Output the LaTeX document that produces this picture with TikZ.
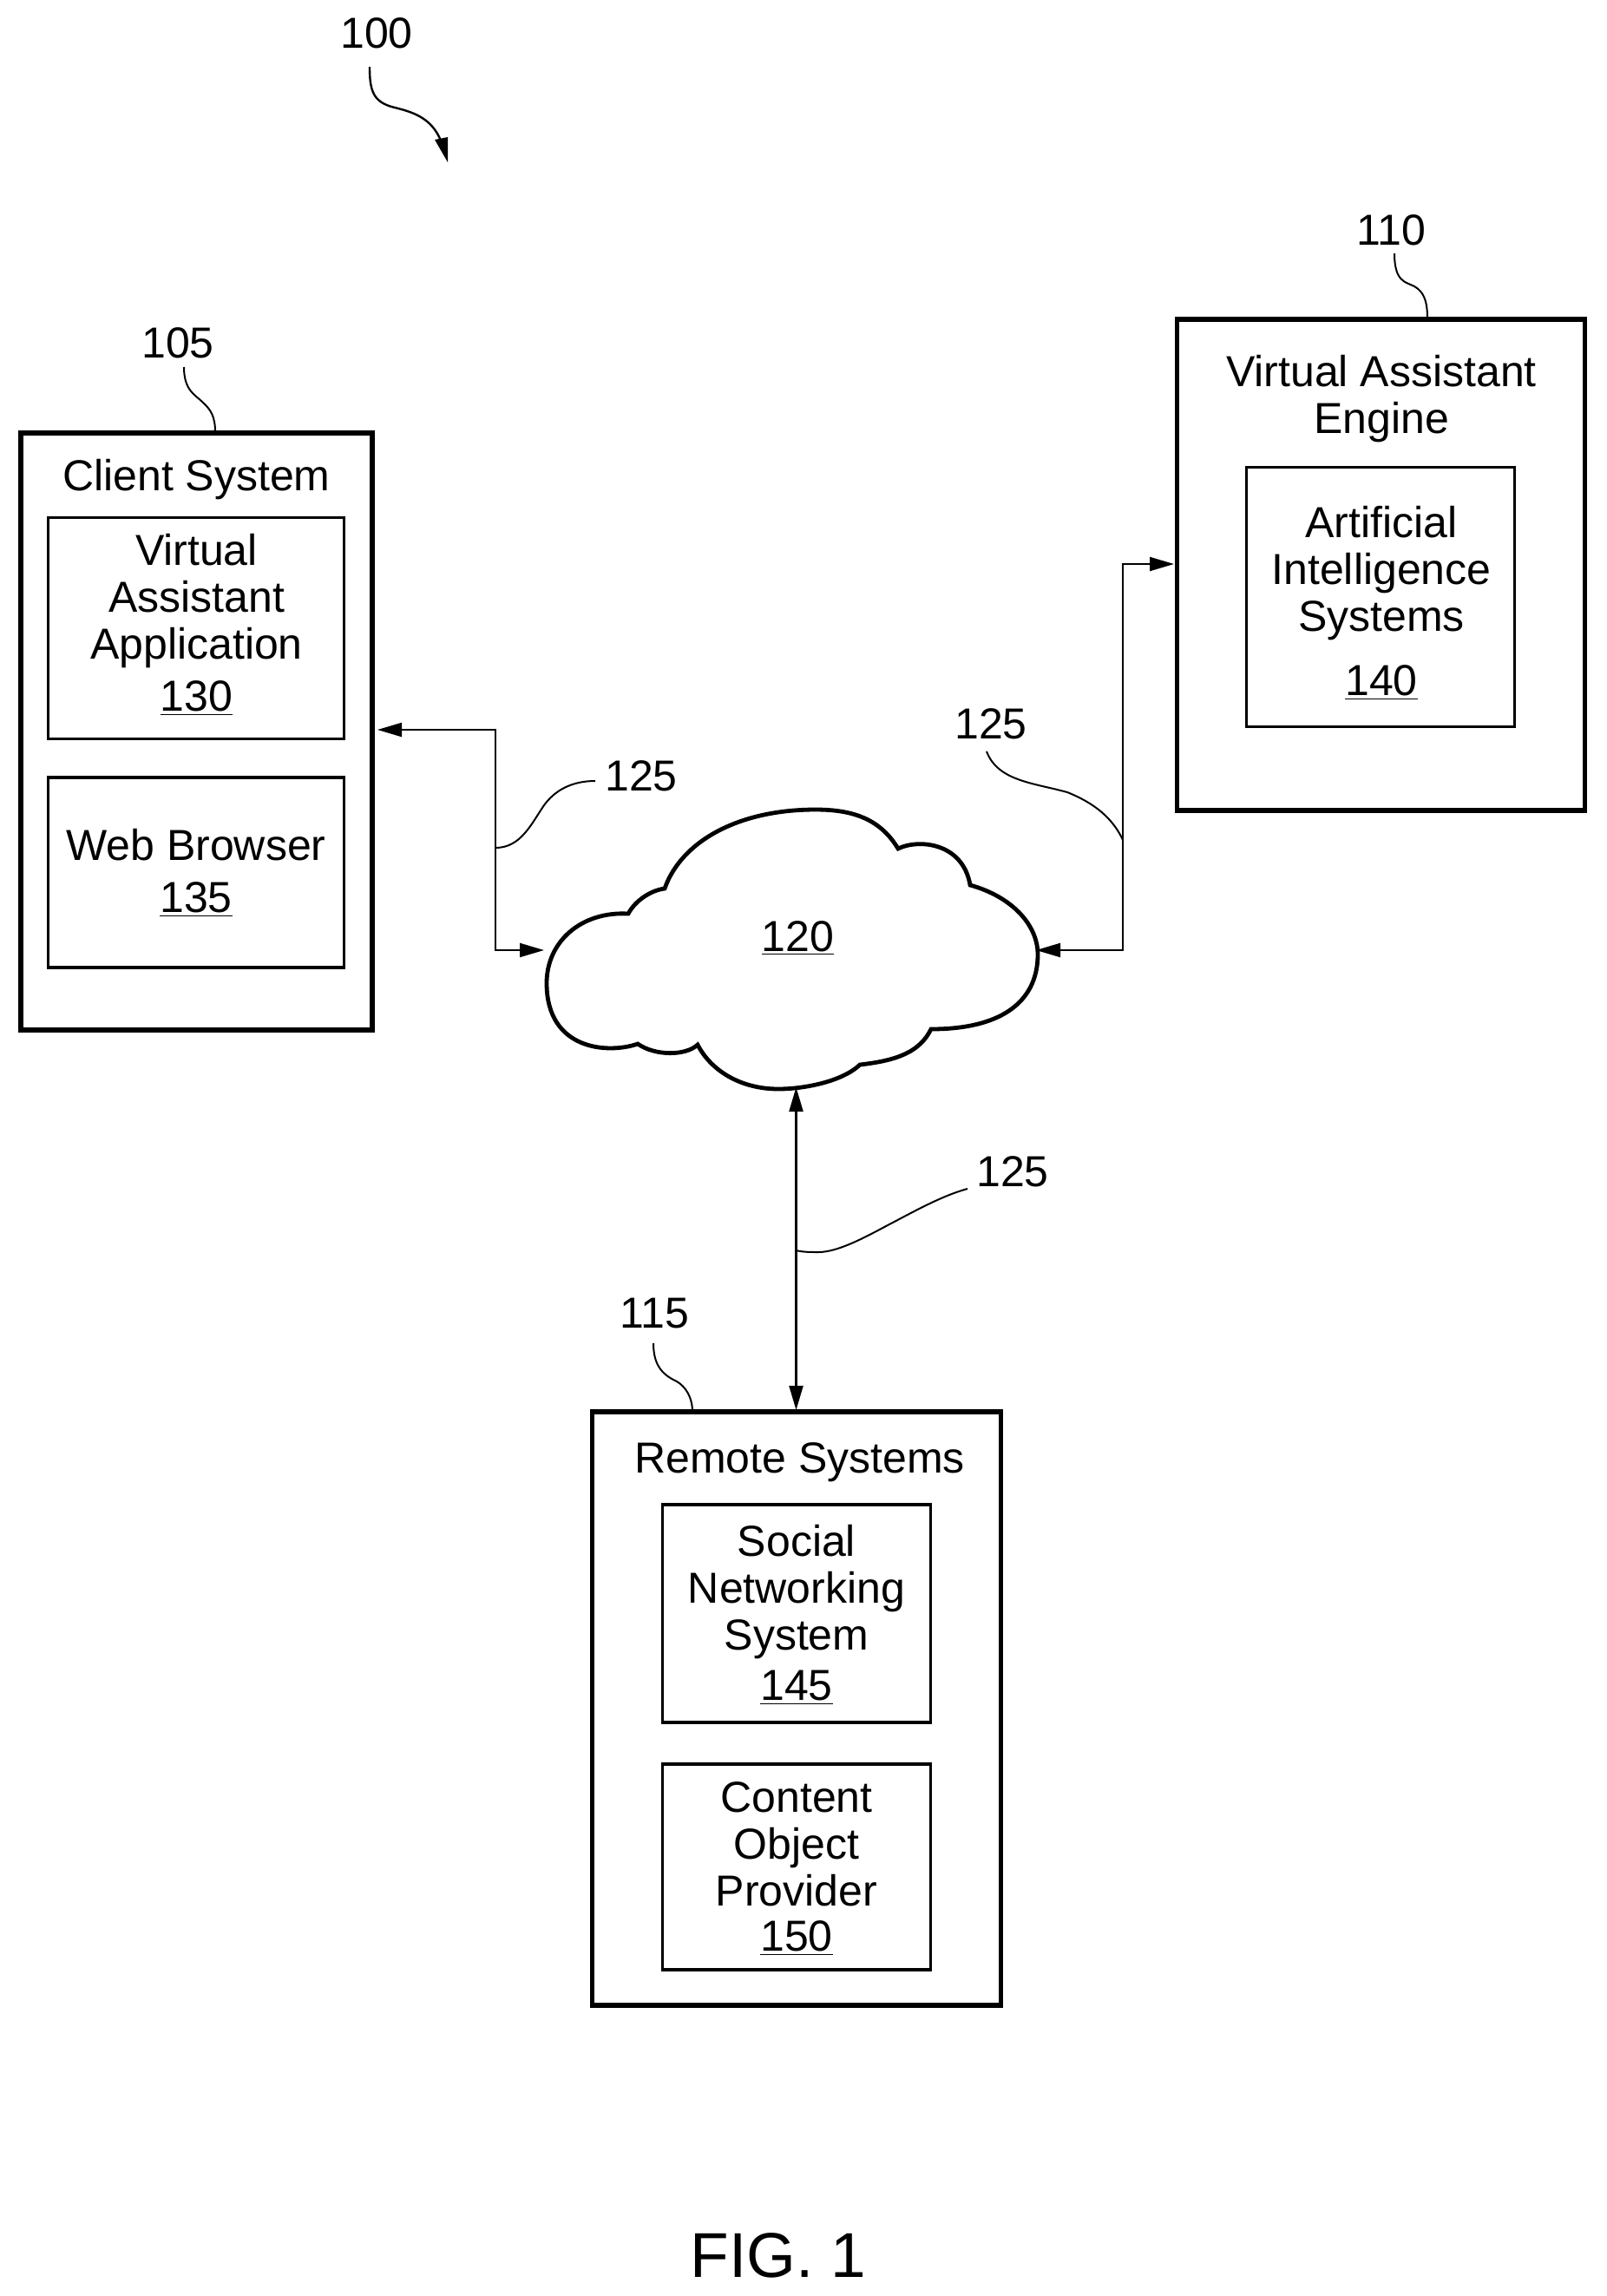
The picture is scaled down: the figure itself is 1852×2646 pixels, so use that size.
\documentclass[tikz,border=0pt]{standalone}
\usepackage{fontspec}
\setmainfont{Liberation Sans}
\usetikzlibrary{arrows.meta}
\newcommand{\reftxt}[1]{\underline{#1}}
\tikzset{
  x=0.5pt,y=-0.5pt,
  outerbox/.style={draw=black,line width=2.6pt,inner sep=0pt,outer sep=0pt},
  innerbox/.style={draw=black,line width=1.6pt,inner sep=0pt,outer sep=0pt},
  boxtext/.style={align=center,inner sep=0pt,font=\fontsize{25}{27}\selectfont},
  refnum/.style={inner sep=0pt,font=\fontsize{25}{27}\selectfont},
  figlabel/.style={inner sep=0pt,font=\fontsize{36.5}{40}\selectfont},
  link/.style={line width=1.1pt,{Triangle[length=14pt,width=8pt]}-{Triangle[length=14pt,width=8pt]}},
  leader/.style={line width=1pt},
}
\begin{document}
\begin{tikzpicture}
\useasboundingbox (0,0) rectangle (1852,2646);
% reference numerals
\node[refnum] (n100) at (434,38) {100};
\node[refnum] (n105) at (205,395) {105};
\node[refnum] (n110) at (1603.5,265) {110};
\node[refnum] (n115) at (754,1514) {115};
\node[refnum] (n125a) at (739,894) {125};
\node[refnum] (n125b) at (1142,834) {125};
\node[refnum] (n125c) at (1167,1350) {125};
% boxes
\node[outerbox,minimum width=202.5pt,minimum height=344pt] (client) at (226.5,843) {};
\node[innerbox,minimum width=170.5pt,minimum height=127.5pt] (vaapp) at (226,724) {};
\node[innerbox,minimum width=170.5pt,minimum height=109.5pt] (web) at (226,1005.5) {};
\node[outerbox,minimum width=235pt,minimum height=283pt] (engine) at (1591.5,651) {};
\node[innerbox,minimum width=154.5pt,minimum height=149.5pt] (ai) at (1591,688) {};
\node[outerbox,minimum width=235.5pt,minimum height=342pt] (remote) at (918,1969) {};
\node[innerbox,minimum width=154.5pt,minimum height=125.5pt] (social) at (918,1859.5) {};
\node[innerbox,minimum width=154.5pt,minimum height=118.5pt] (content) at (918,2151.5) {};
% box texts
\node[boxtext] (tclient) at (226.5,553) {Client System};
\node[boxtext] (tvaapp) at (226.5,720) {Virtual\\Assistant\\Application\\[3pt]\reftxt{130}};
\node[boxtext] (tweb) at (226,1006) {Web Browser\\[3pt]\reftxt{135}};
\node[boxtext] (tengine) at (1592,460) {Virtual Assistant\\Engine};
\node[boxtext] (tai) at (1592,695) {Artificial\\Intelligence\\Systems\\[10pt]\reftxt{140}};
\node[boxtext] (tremote) at (921.5,1685) {Remote Systems};
\node[boxtext] (tsocial) at (918,1861) {Social\\Networking\\System\\[2pt]\reftxt{145}};
\node[boxtext] (tcontent) at (918,2153.5) {Content\\Object\\Provider\\[-1pt]\reftxt{150}};
% cloud
\draw[line width=2.4pt,line join=miter,fill=white]
  (766,1024) .. controls (785,970) and (850,933) .. (940,933)
  .. controls (985,933) and (1015,945) .. (1035,978)
  .. controls (1060,966) and (1110,972) .. (1118,1020)
  .. controls (1165,1033) and (1196,1065) .. (1196,1100)
  .. controls (1196,1150) and (1160,1186) .. (1073,1186)
  .. controls (1060,1212) and (1035,1222) .. (991,1227)
  .. controls (970,1247) and (925,1255) .. (897,1255)
  .. controls (855,1255) and (820,1235) .. (804,1204)
  .. controls (790,1217) and (755,1217) .. (735,1203)
  .. controls (700,1215) and (630,1210) .. (630,1133)
  .. controls (630,1085) and (670,1050) .. (724,1053)
  .. controls (732,1038) and (750,1026) .. (766,1024) -- cycle;
\node[boxtext] (cloud) at (919.5,1081) {\reftxt{120}};
\node[figlabel] (fig) at (897,2599.5) {FIG. 1};
% connector ends on the cloud
\coordinate (cloudL) at (627,1095);
\coordinate (cloudR) at (1194,1095);
\coordinate (cloudB) at (917.5,1253);
\coordinate (clientPort) at (435,841);
\coordinate (enginePort) at (1353,650);
\coordinate (remotePort) at (917.5,1625);
\coordinate (turnA) at (571,841);
\coordinate (turnB) at (1294,650);
% connectors
\draw[link] (clientPort) -- (turnA) -- (turnA |- cloudL) -- (cloudL);
\draw[link] (enginePort) -- (turnB) -- (turnB |- cloudR) -- (cloudR);
\draw[link] (cloudB) -- (remotePort);
% leaders
\coordinate (l100) at (426,77);
\coordinate (l100e) at (516,187);
\draw[line width=1.2pt] (l100) .. controls (426,105) and (430,118) .. (455,124) .. controls (480,130) and (498,138) .. (508,162);
\fill (501,161) -- (516,158) -- (l100e) -- cycle;
\coordinate (l105) at (212,423);
\draw[leader] (l105) .. controls (212,450) and (225,455) .. (233,463) .. controls (243,472) and (248,480) .. (248,498);
\coordinate (l110) at (1607,292);
\draw[leader] (l110) .. controls (1607,325) and (1620,325) .. (1630,330) .. controls (1640,336) and (1645,345) .. (1645,367);
\coordinate (l115) at (753,1548);
\draw[leader] (l115) .. controls (753,1575) and (765,1585) .. (780,1592) .. controls (790,1598) and (798,1610) .. (798,1627);
\coordinate (l125a) at (686,900);
\draw[leader] (l125a) .. controls (660,900) and (640,910) .. (627,928) .. controls (612,950) and (600,977) .. (turnA |- 0,977);
\coordinate (l125b) at (1137,866);
\draw[leader] (l125b) .. controls (1150,900) and (1190,902) .. (1230,913) .. controls (1260,925) and (1282,942) .. (turnB |- 0,968);
\coordinate (l125c) at (1115,1370);
\draw[leader] (l125c) .. controls (1085,1378) and (1050,1398) .. (1023,1412) .. controls (995,1427) and (965,1443) .. (943,1443) .. controls (935,1443) and (925,1443) .. (cloudB |- 0,1441);
\end{tikzpicture}
\end{document}
